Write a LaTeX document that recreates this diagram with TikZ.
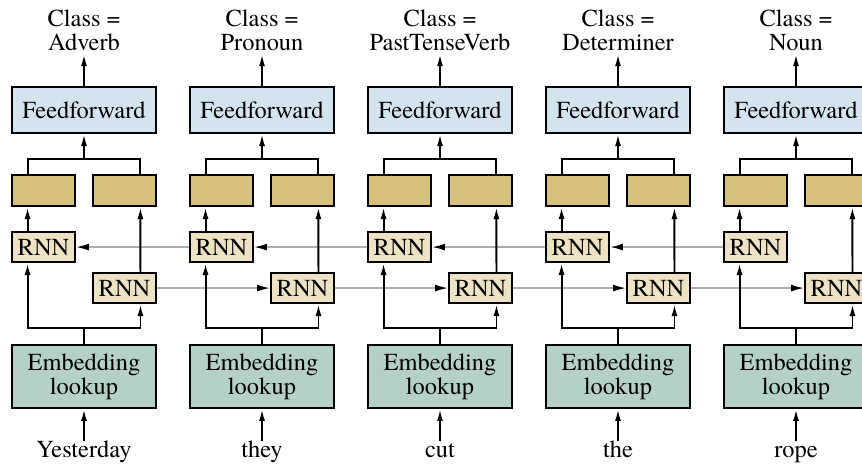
\documentclass[tikz,border=0pt]{standalone}
\usepackage{fontspec}
\setmainfont{texgyretermes}[Extension=.otf,UprightFont=*-regular]
\usepackage{tikz}
\usetikzlibrary{arrows.meta,positioning}
\definecolor{ffblue}{HTML}{D4E4EE}
\definecolor{outgold}{HTML}{D5C17B}
\definecolor{rnncream}{HTML}{EEE2C4}
\definecolor{embgreen}{HTML}{B5D1C6}
\definecolor{linkgray}{HTML}{ADADAD}
\tikzset{
  ffbox/.style={rectangle,draw=black,fill=ffblue,line width=1.1pt,minimum width=28.8mm,minimum height=9.2mm,inner sep=0pt},
  outbox/.style={rectangle,draw=black,fill=outgold,line width=1.1pt,minimum width=12.6mm,minimum height=6.2mm,inner sep=0pt},
  rnnbox/.style={rectangle,draw=black,fill=rnncream,line width=1.1pt,minimum width=12.6mm,minimum height=6mm,inner sep=0pt},
  embbox/.style={rectangle,draw=black,fill=embgreen,line width=1.1pt,minimum width=28.8mm,minimum height=12.6mm,inner sep=0pt,align=center},
  cls/.style={align=center,inner sep=0.6mm},
  word/.style={text height=0.7em,text depth=0.25em,inner sep=0.7mm},
  line/.style={line width=1.1pt,draw=black},
  edge/.style={-{Latex[length=2.4mm,width=1.2mm]},line width=1.1pt,draw=black},
  link/.style={-{Latex[length=2.6mm,width=1.4mm,color=black]},line width=1pt,draw=linkgray}
}
\begin{document}
\begin{tikzpicture}[font=\fontsize{13.9pt}{13.5pt}\selectfont]
\path[use as bounding box,clip] (0,0) rectangle (172.4mm,94mm);
% one column per word
\foreach \i/\word/\cls in {1/Yesterday/Adverb,2/they/Pronoun,3/cut/PastTenseVerb,4/the/Determiner,5/rope/Noun}{
  \node[embbox] (emb\i) at ({16.8mm+35.6mm*(\i-1)},18.7mm) {Embedding\\lookup};
  \node[word,below=6.4mm of emb\i] (w\i) {\word};
  \node[rnnbox,above left=8mm and 0mm of emb\i.north east] (rnnf\i) {RNN};
  \node[rnnbox,above right=16.2mm and 0mm of emb\i.north west] (rnnb\i) {RNN};
  \node[outbox,above=4.8mm of rnnb\i] (outl\i) {};
  \node[outbox,right=3.2mm of outl\i] (outr\i) {};
  \node[ffbox,above=42mm of emb\i] (ff\i) {Feedforward};
  \node[cls,above=6.4mm of ff\i] (cls\i) {Class =\\\cls};
  \coordinate[above=3.2mm of emb\i] (bt\i);
  \coordinate[below=5mm of ff\i] (tp\i);
}
% recurrent links
\foreach \i/\j in {1/2,2/3,3/4,4/5}{
  \draw[link] (rnnf\i) -- (rnnf\j);
  \draw[link] (rnnb\j) -- (rnnb\i);
}
\foreach \i in {1,...,5}{
  \draw[edge] (w\i) -- (emb\i);
  \draw[line] (emb\i) -- (bt\i);
  \draw[edge] (bt\i) -| ([xshift=3.3mm]rnnb\i.south west);
  \draw[edge] (bt\i) -| ([xshift=-3.3mm]rnnf\i.south east);
  \draw[edge] ([xshift=3.3mm]rnnb\i.north west) -- ([xshift=3.3mm]outl\i.south west);
  \draw[edge] ([xshift=-3.3mm]rnnf\i.north east) -- ([xshift=-3.3mm]outr\i.south east);
  \draw[line] ([xshift=3.3mm]outl\i.north west) |- (tp\i) -| ([xshift=-3.3mm]outr\i.north east);
  \draw[edge] (tp\i) -- (ff\i);
  \draw[edge] (ff\i) -- (cls\i);
}
\end{tikzpicture}
\end{document}
